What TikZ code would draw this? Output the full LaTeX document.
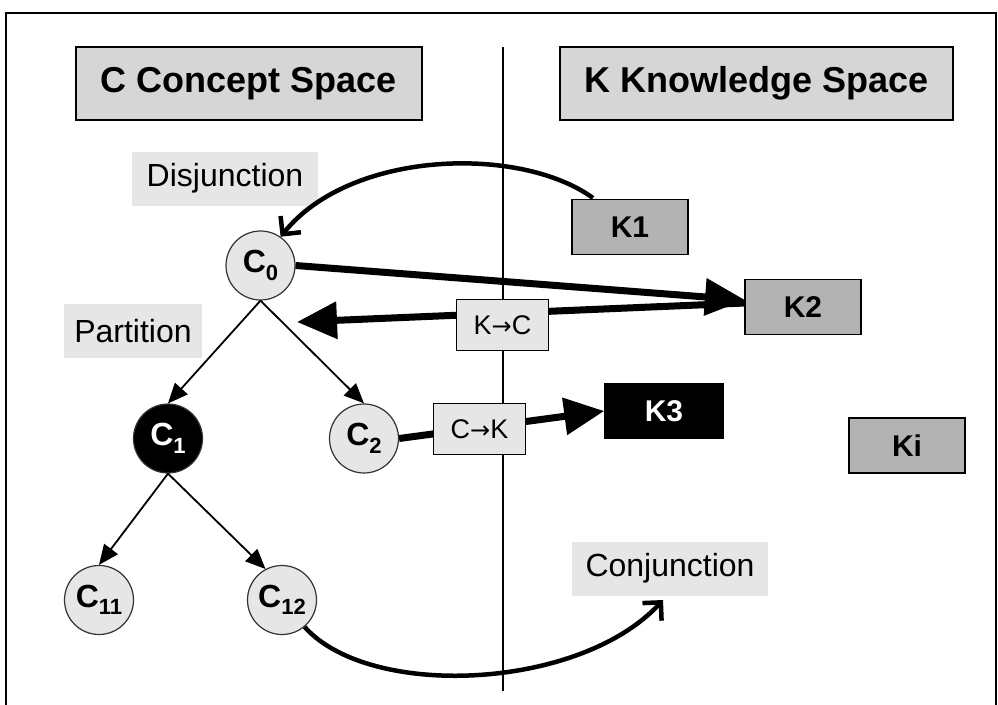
\documentclass[tikz,border=0pt]{standalone}
\usepackage{fontspec}
\setmainfont{Liberation Sans}
\newfontfamily\dejavu{DejaVu Sans}
\usetikzlibrary{arrows.meta}
\definecolor{titlegray}{RGB}{214,214,214}
\definecolor{kgray}{RGB}{179,179,179}
\definecolor{lightg}{RGB}{230,230,230}
\newcommand{\cname}[1]{C\raisebox{-0.45ex}{\fontsize{22}{22}\selectfont #1}}
\newcommand{\arr}{{\dejavu\fontsize{24}{24}\selectfont →}}
\begin{document}
\begin{tikzpicture}[x=1pt,y=-1pt,
  titlebox/.style={draw, line width=1.5pt, fill=titlegray, minimum width=346pt, minimum height=73pt, inner sep=0, font=\fontsize{36}{36}\selectfont\bfseries},
  kbox/.style={draw, line width=1.5pt, fill=kgray, minimum width=116pt, minimum height=55pt, inner sep=0, font=\fontsize{30}{30}\selectfont\bfseries},
  lbl/.style={fill=lightg, minimum height=54pt, inner sep=0, font=\fontsize{32}{32}\selectfont},
  cnode/.style={circle, draw=black!80, line width=1.2pt, fill=lightg, minimum size=69pt, inner sep=0, font=\fontsize{32}{32}\selectfont\bfseries},
  tbox/.style={draw, line width=1.3pt, fill=lightg, minimum width=92pt, minimum height=51pt, inner sep=0, font=\fontsize{27}{27}\selectfont},
  treearrow/.style={line width=1.8pt, -{Triangle[length=20pt,width=17pt]}},
  fatarrow/.style={line width=7pt, -{Triangle[length=40pt,width=36pt]}},
  curvearrow/.style={line width=4.5pt, -{Straight Barb[length=13pt,width=26pt]}}
]
\useasboundingbox (0,0) rectangle (998,704);
\fill[white] (0,0) rectangle (998,704);
% frame
\draw[line width=2pt] (6,720) -- (6,13) -- (996,13) -- (996,720);
% vertical divider
\coordinate (vtop) at (503,47);
\coordinate (vbot) at (503,691);
\draw[line width=1.3pt] (vtop) -- (vbot);
% titles
\node[titlebox] (tc) at (249,83.5) {C Concept Space};
\node[titlebox, minimum width=393pt] (tk) at (756.5,83.5) {K Knowledge Space};
% labels
\node[lbl, minimum width=186pt] (dis) at (225,178.5) {Disjunction};
\node[lbl, minimum width=138pt] (par) at (133,331) {Partition};
\node[lbl, minimum width=196pt] (con) at (670,568.5) {Conjunction};
% K boxes
\node[kbox] (k1) at (630,227) {K1};
\node[kbox] (k2) at (803,307) {K2};
\node[kbox, fill=black, text=white, minimum width=118pt] (k3) at (664,411) {K3};
\node[kbox] (ki) at (907,445.5) {Ki};
% C nodes
\node[cnode] (c0) at (260.5,265.5) {\cname{0}};
\node[cnode, fill=black, text=white] (c1) at (168,438.5) {\cname{1}};
\node[cnode] (c2) at (364,438.5) {\cname{2}};
\node[cnode] (c11) at (99,600) {\cname{11}};
\node[cnode] (c12) at (282,600) {\cname{12}};
% tree arrows
\draw[treearrow] (c0.south) -- (c1.north);
\draw[treearrow] (c0.south) -- (c2.north);
\draw[treearrow] (c1.south) -- (c11.north);
\draw[treearrow] (c1.south) -- (c12.118);
% fat arrows
\coordinate (k2in) at (745,300);
\coordinate (k2out) at (745,303);
\coordinate (c0in) at (297,322);
\draw[fatarrow] (c0.east) -- (k2in);
\draw[fatarrow] (k2out) -- (c0in);
\draw[fatarrow] (c2.east) -- (k3.west);
% transfer boxes
\node[tbox] (kc) at (502.5,325) {K\arr C};
\node[tbox] (ck) at (479.5,429) {C\arr K};
% curved arrows
\coordinate (k1top) at (593,198);
\draw[curvearrow] (k1top) .. controls (520,145) and (350,150) .. (c0.55);
\coordinate (conb) at (663,600);
\draw[curvearrow] (c12.-50) .. controls (370,700) and (580,690) .. (conb);
\end{tikzpicture}
\end{document}
